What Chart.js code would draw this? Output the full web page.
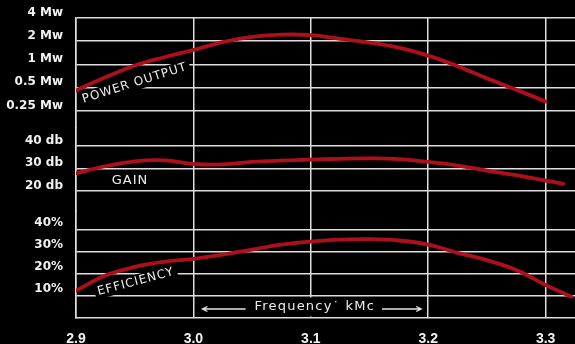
<!DOCTYPE html>
<html>
<head>
<meta charset="utf-8">
<script src="https://cdn.jsdelivr.net/npm/chart.js@4.4.1/dist/chart.umd.min.js"></script>
<style>
  html, body { margin: 0; padding: 0; background: #000; }
  #wrap { width: 575px; height: 344px; }
</style>
</head>
<body>
<div id="wrap"><canvas id="klystronChart"></canvas></div>
<script>
// Frequency in kMc for each curve
const powerFreq = [2.9, 2.925, 2.95, 2.975, 3.0, 3.025, 3.05, 3.075, 3.1, 3.125, 3.15, 3.175, 3.2, 3.225, 3.25, 3.275, 3.3];
const powerMw   = [0.46, 0.68, 0.97, 1.24, 1.54, 1.95, 2.27, 2.43, 2.40, 2.15, 1.92, 1.65, 1.30, 0.95, 0.66, 0.47, 0.33];

const gainFreq = [2.9, 2.925, 2.95, 2.975, 3.0, 3.025, 3.05, 3.075, 3.1, 3.125, 3.15, 3.175, 3.2, 3.225, 3.25, 3.275, 3.3, 3.315];
const gainDb   = [27.9, 31.0, 33.2, 33.6, 32.0, 31.8, 32.9, 33.5, 33.9, 34.3, 34.5, 34.2, 32.9, 31.3, 29.1, 27.0, 24.6, 23.2];

const effFreq = [2.9, 2.925, 2.95, 2.975, 3.0, 3.025, 3.05, 3.075, 3.1, 3.125, 3.15, 3.175, 3.2, 3.225, 3.25, 3.275, 3.3, 3.322];
const effPct  = [12.4, 19.3, 23.2, 25.5, 26.9, 28.8, 31.1, 33.3, 34.7, 35.6, 35.8, 35.2, 33.3, 29.6, 26.3, 21.8, 15.0, 9.7];

// tick values
const freqTicks  = [2.9, 3.0, 3.1, 3.2, 3.3];
const powerTicks = [0.25, 0.5, 1, 2, 4];
const gainTicks  = [20, 30, 40];
const effTicks   = [10, 20, 30, 40];

const curveRed = '#ad0f1b';
const gridWhite = '#dedede';

// curve names written along the curves (freq / value on that curve's own axis)
const curveLabels = [
  { text: 'POWER OUTPUT', axis: 'yPow',  freq: 2.95,  value: 0.57, angle: -17.5, size: 12 },
  { text: 'GAIN',         axis: 'yGain', freq: 2.946, value: 24.7, angle: 0,     size: 13 },
  { text: 'EFFICIENCY',   axis: 'yEff',  freq: 2.951, value: 16.4, angle: -15,   size: 12 }
];

function toPoints(xs, ys) {
  return xs.map((x, i) => ({ x: x, y: ys[i] }));
}

function setTicks(values) {
  return function(scale) {
    scale.ticks = values.map(v => ({ value: v }));
  };
}

function fixWidth(scale) {
  scale.width = 76;
  scale.paddingTop = 0;
  scale.paddingBottom = 0;
}

const labelFont = { family: '"DejaVu Sans"', size: 12, weight: 'bold' };

function yTicks(offset, unit) {
  return {
    color: '#f2f2f2', font: labelFont, padding: 13, labelOffset: offset,
    autoSkip: false, callback: v => v + unit
  };
}

function yAxis(opts) {
  return Object.assign({
    position: 'left',
    stack: 'panels',
    border: { display: true, color: gridWhite, width: 1.5 },
    grid: { color: gridWhite, lineWidth: 1.5, drawTicks: false },
    afterFit: fixWidth
  }, opts);
}

const labelPlugin = {
  id: 'curveLabels',
  beforeDatasetsDraw(chart) {
    const ctx = chart.ctx;
    const xs = chart.scales.x;
    curveLabels.forEach(l => {
      const px = xs.getPixelForValue(l.freq);
      const py = chart.scales[l.axis].getPixelForValue(l.value);
      ctx.save();
      ctx.translate(px, py);
      ctx.rotate(l.angle * Math.PI / 180);
      ctx.font = l.size + 'px "DejaVu Sans"';
      ctx.letterSpacing = '1px';
      const w = ctx.measureText(l.text).width;
      ctx.fillStyle = '#000';
      ctx.fillRect(-w / 2 - 3, -l.size * 0.6, w + 6, l.size * 1.2);
      ctx.fillStyle = '#eeeeee';
      ctx.textAlign = 'center';
      ctx.textBaseline = 'middle';
      ctx.fillText(l.text, 0, 0);
      ctx.restore();
    });

    // frequency caption with arrows, between the 3.0 and 3.2 lines
    const eff = chart.scales.yEff;
    const x0 = xs.getPixelForValue(3.0), x1 = xs.getPixelForValue(3.2);
    const xm = xs.getPixelForValue(3.1);
    const yTop = eff.getPixelForValue(10), yBot = eff.getPixelForValue(0);
    const ym = (yTop + yBot) / 2;
    ctx.save();
    ctx.fillStyle = '#000';
    ctx.fillRect(x0 + 2, yTop + 1.5, x1 - x0 - 4, yBot - yTop - 3);
    ctx.font = '13px "DejaVu Sans"';
    ctx.letterSpacing = '1.2px';
    const caption = 'Frequency\u02D9 kMc';
    const tw = ctx.measureText(caption).width;
    ctx.fillStyle = '#eeeeee';
    ctx.textAlign = 'center';
    ctx.textBaseline = 'middle';
    ctx.fillText(caption, xm + 4, ym);
    ctx.strokeStyle = '#e6e6e6';
    ctx.lineWidth = 1.3;
    const ay = ym + 2;
    const la = x0 + 9, lb = xm + 4 - tw / 2 - 9;
    const ra = xm + 4 + tw / 2 + 7, rb = x1 - 7;
    ctx.beginPath();
    ctx.moveTo(lb, ay); ctx.lineTo(la, ay);
    ctx.moveTo(la + 5, ay - 2.5); ctx.lineTo(la, ay); ctx.lineTo(la + 5, ay + 2.5);
    ctx.moveTo(ra, ay); ctx.lineTo(rb, ay);
    ctx.moveTo(rb - 5, ay - 2.5); ctx.lineTo(rb, ay); ctx.lineTo(rb - 5, ay + 2.5);
    ctx.stroke();
    ctx.restore();
  }
};

const ctx = document.getElementById('klystronChart').getContext('2d');

const klystronChart = new Chart(ctx, {
  type: 'line',
  data: {
    datasets: [
      { label: 'Power output', data: toPoints(powerFreq, powerMw), yAxisID: 'yPow' },
      { label: 'Gain', data: toPoints(gainFreq, gainDb), yAxisID: 'yGain' },
      { label: 'Efficiency', data: toPoints(effFreq, effPct), yAxisID: 'yEff' }
    ]
  },
  options: {
    responsive: true,
    maintainAspectRatio: false,
    animation: false,
    layout: { padding: { top: 18, right: 0, left: 0, bottom: 0 } },
    elements: {
      line: { borderColor: curveRed, borderWidth: 3.8, tension: 0.4, fill: false, borderCapStyle: 'round' },
      point: { radius: 0 }
    },
    plugins: {
      legend: { display: false },
      tooltip: { enabled: false }
    },
    scales: {
      x: {
        type: 'linear',
        min: 2.9,
        max: 3.325,
        border: { display: true, color: gridWhite, width: 1.5 },
        grid: { color: gridWhite, lineWidth: 1.5, drawTicks: false },
        afterBuildTicks: setTicks(freqTicks),
        afterFit: function(scale) { scale.height = 26; },
        ticks: {
          color: '#f2f2f2',
          font: { family: '"Liberation Sans"', size: 14, weight: 'bold' },
          padding: 13,
          autoSkip: false,
          maxRotation: 0,
          callback: v => v.toFixed(1)
        }
      },
      // bottom panel first: left stacked axes are laid out in reverse order
      yEff: yAxis({
        type: 'linear', min: 0, max: 48.6, stackWeight: 107,
        afterBuildTicks: setTicks(effTicks),
        ticks: yTicks(-7, '%')
      }),
      yGain: yAxis({
        type: 'linear', min: 11.1, max: 48, stackWeight: 83,
        afterBuildTicks: setTicks(gainTicks),
        ticks: yTicks(-5.5, ' db')
      }),
      yPow: yAxis({
        type: 'logarithmic', min: 0.15, max: 4, stackWeight: 110,
        afterBuildTicks: setTicks(powerTicks),
        ticks: yTicks(-5.5, ' Mw')
      })
    }
  },
  plugins: [labelPlugin]
});
</script>
</body>
</html>
